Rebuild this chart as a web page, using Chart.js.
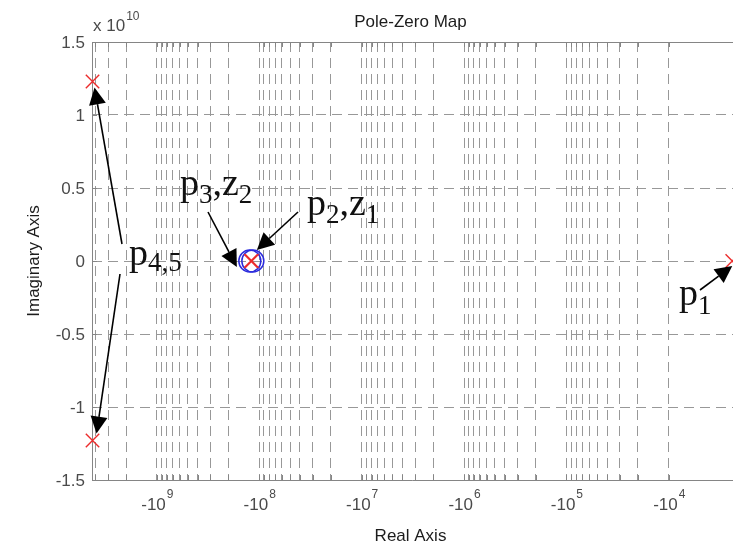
<!DOCTYPE html>
<html><head><meta charset="utf-8">
<script src="https://cdn.jsdelivr.net/npm/chart.js@4/dist/chart.umd.min.js"></script>
<style>html,body{margin:0;padding:0;background:#fff;overflow:hidden}</style>
</head><body>
<canvas id="c" width="733" height="544"></canvas>
<script>
// ---- data ----
const chartTitle = 'Pole-Zero Map';
const xAxisTitle = 'Real Axis';
const yAxisTitle = 'Imaginary Axis';
const yExponent = '10';
const poleNames = ['p1', 'p2', 'p3', 'p4', 'p5'];
const poleReal = [-2.4e3, -1.181e8, -1.208e8, -4.25e9, -4.25e9];
const poleImag = [0, 0, 0, 1.23e10, -1.23e10];
const zeroNames = ['z1', 'z2'];
const zeroReal = [-1.155e8, -1.236e8];
const zeroImag = [0, 0];
const xDecadeExps = [9, 8, 7, 6, 5, 4];          // tick labels -10^n
const yTickValues = [-1.5e10, -1e10, -0.5e10, 0, 0.5e10, 1e10, 1.5e10];
const yTickLabels = ['-1.5', '-1', '-0.5', '0', '0.5', '1', '1.5'];
const xLimits = [-4.3e9, -2.36e3];
const yLimits = [-1.5e10, 1.5e10];
// annotation labels: [text, isSubscript]
const annotationTexts = {
  p45: [['p', 0], ['4,5', 1]],
  p3z2: [['p', 0], ['3', 1], [',', 0], ['z', 0], ['2', 1]],
  p2z1: [['p', 0], ['2', 1], [',', 0], ['z', 0], ['1', 1]],
  p1: [['p', 0], ['1', 1]]
};

// ---- styles ----
const SANS = '"Liberation Sans", Arial, sans-serif';
const SERIF = '"Liberation Serif", "Times New Roman", serif';
const GRID = '#989898';
const AXIS = '#858585';
const TICKTXT = '#4a4a4a';
const TXT = '#1c1c1c';

// grid tick values on |x|
const xGridMags = [];
for (let n = 4; n <= 9; n++) for (let k = 1; k <= 9; k++) {
  const v = k * Math.pow(10, n);
  if (v >= 1e4 && v <= -xLimits[0]) xGridMags.push(v);
}

const annotations = [
  { key: 'p45', x: 129, y: 265, sub: 6, arrows: [
    { pole: 3, dx: 2, dy: 6, from: [122, 244] },
    { pole: 4, dx: 4, dy: -7, from: [120, 274] } ] },
  { key: 'p3z2', x: 180, y: 195, sub: 8, arrows: [
    { pole: 2, dx: -14, dy: 6, from: [208, 212] } ] },
  { key: 'p2z1', x: 307, y: 215, sub: 8, arrows: [
    { pole: 1, dx: 5, dy: -11, from: [298, 212] } ] },
  { key: 'p1', x: 679, y: 305, sub: 9, arrows: [
    { pole: 0, dx: 0, dy: 5, from: [700, 290] } ] }
];

function drawArrow(ctx, x0, y0, x1, y1) {
  const ang = Math.atan2(y1 - y0, x1 - x0);
  const L = 17, W = 8.5;
  const bx = x1 - L * Math.cos(ang), by = y1 - L * Math.sin(ang);
  ctx.beginPath();
  ctx.moveTo(x0, y0); ctx.lineTo(bx, by);
  ctx.lineWidth = 1.6; ctx.strokeStyle = '#000'; ctx.stroke();
  ctx.beginPath();
  ctx.moveTo(x1, y1);
  ctx.lineTo(bx + W * Math.sin(ang), by - W * Math.cos(ang));
  ctx.lineTo(bx - W * Math.sin(ang), by + W * Math.cos(ang));
  ctx.closePath(); ctx.fillStyle = '#000'; ctx.fill();
}

const decorPlugin = {
  id: 'decor',
  beforeDatasetsDraw(chart) {
    const { ctx, chartArea: a, scales: { x, y } } = chart;
    ctx.save();
    ctx.strokeStyle = AXIS; ctx.lineWidth = 1;
    const L = Math.round(a.left) + 0.5, T = Math.round(a.top) + 0.5, B = Math.round(a.bottom) + 0.5;
    ctx.beginPath();
    ctx.moveTo(a.right, T); ctx.lineTo(L, T); ctx.lineTo(L, B); ctx.lineTo(a.right, B);
    xGridMags.forEach(m => {
      const px = Math.round(x.getPixelForValue(m)) + 0.5;
      ctx.moveTo(px, a.top); ctx.lineTo(px, a.top + 5);
      ctx.moveTo(px, a.bottom); ctx.lineTo(px, a.bottom - 5);
    });
    yTickValues.forEach(v => {
      const py = Math.round(y.getPixelForValue(v)) + 0.5;
      ctx.moveTo(a.left, py); ctx.lineTo(a.left + 5, py);
    });
    ctx.stroke();
    ctx.restore();
  },
  afterDatasetsDraw(chart) {
    const { ctx, scales: { x, y } } = chart;
    ctx.save();
    annotations.forEach(an => {
      let cx = an.x;
      ctx.fillStyle = '#111';
      ctx.textBaseline = 'alphabetic'; ctx.textAlign = 'left';
      annotationTexts[an.key].forEach(([t, sub]) => {
        ctx.font = (sub ? '27px ' : '38px ') + SERIF;
        ctx.fillText(t, cx, an.y + (sub ? an.sub : 0));
        cx += ctx.measureText(t).width;
      });
      an.arrows.forEach(ar => {
        const tx = x.getPixelForValue(-poleReal[ar.pole]) + ar.dx;
        const ty = y.getPixelForValue(poleImag[ar.pole]) + ar.dy;
        drawArrow(ctx, ar.from[0], ar.from[1], tx, ty);
      });
    });
    ctx.restore();
  },
  afterDraw(chart) {
    const { ctx, chartArea: a, scales: { x, y } } = chart;
    ctx.save();
    const cxm = (a.left + a.right) / 2 - 2;
    ctx.fillStyle = TXT; ctx.textAlign = 'center'; ctx.textBaseline = 'alphabetic';
    ctx.font = '17px ' + SANS;
    ctx.fillText(chartTitle, cxm, 27);
    ctx.fillText(xAxisTitle, cxm, 541);
    ctx.save();
    ctx.translate(39, (a.top + a.bottom) / 2);
    ctx.rotate(-Math.PI / 2);
    ctx.fillText(yAxisTitle, 0, 0);
    ctx.restore();
    ctx.fillStyle = TICKTXT; ctx.textAlign = 'right';
    yTickValues.forEach((v, i) => {
      ctx.fillText(yTickLabels[i], a.left - 7, y.getPixelForValue(v) + 6);
    });
    ctx.textAlign = 'left';
    xDecadeExps.forEach(n => {
      const px = x.getPixelForValue(Math.pow(10, n));
      ctx.font = '17px ' + SANS; const base = '-10'; const wb = ctx.measureText(base).width;
      ctx.font = '12px ' + SANS; const sup = String(n); const ws = ctx.measureText(sup).width;
      const sx = px - (wb + ws) / 2;
      ctx.font = '17px ' + SANS; ctx.fillText(base, sx, 510);
      ctx.font = '12px ' + SANS; ctx.fillText(sup, sx + wb + 1, 498);
    });
    ctx.font = '17px ' + SANS;
    ctx.fillText('x 10', a.left + 1, 31);
    const w = ctx.measureText('x 10').width;
    ctx.font = '12px ' + SANS;
    ctx.fillText(yExponent, a.left + 2 + w, 20);
    ctx.restore();
  }
};

const poleData = poleReal.map((r, i) => ({ x: -r, y: poleImag[i] }));
const zeroData = zeroReal.map((r, i) => ({ x: -r, y: zeroImag[i] }));

new Chart(document.getElementById('c'), {
  type: 'scatter',
  data: {
    datasets: [
      { label: 'Poles', data: poleData, pointStyle: 'crossRot', pointRadius: 9.5,
        borderColor: '#ec2b2b', backgroundColor: '#ec2b2b', pointBorderWidth: 1.4,
        order: 0, clip: false },
      { label: 'Zeros', data: zeroData, pointStyle: 'circle', pointRadius: 11,
        borderColor: '#2b2bdc', backgroundColor: 'rgba(0,0,0,0)', pointBorderWidth: 1.5,
        order: 1, clip: false }
    ]
  },
  options: {
    responsive: false, animation: false,
    devicePixelRatio: 1,
    layout: { autoPadding: false, padding: { left: 92, right: 0, top: 42, bottom: 64 } },
    plugins: { legend: { display: false }, tooltip: { enabled: false }, title: { display: false } },
    scales: {
      x: {
        type: 'logarithmic', reverse: true,
        min: -xLimits[1], max: -xLimits[0],
        afterBuildTicks: s => { s.ticks = xGridMags.map(v => ({ value: v })); },
        ticks: { display: false },
        grid: { color: GRID, lineWidth: 1, drawTicks: false },
        border: { display: false, dash: [10, 6] }
      },
      y: {
        type: 'linear', min: yLimits[0], max: yLimits[1],
        afterBuildTicks: s => { s.ticks = yTickValues.slice(1, -1).map(v => ({ value: v })); },
        ticks: { display: false },
        grid: { color: GRID, lineWidth: 1, drawTicks: false },
        border: { display: false, dash: [10, 6] }
      }
    }
  },
  plugins: [decorPlugin]
});
</script>
</body></html>
